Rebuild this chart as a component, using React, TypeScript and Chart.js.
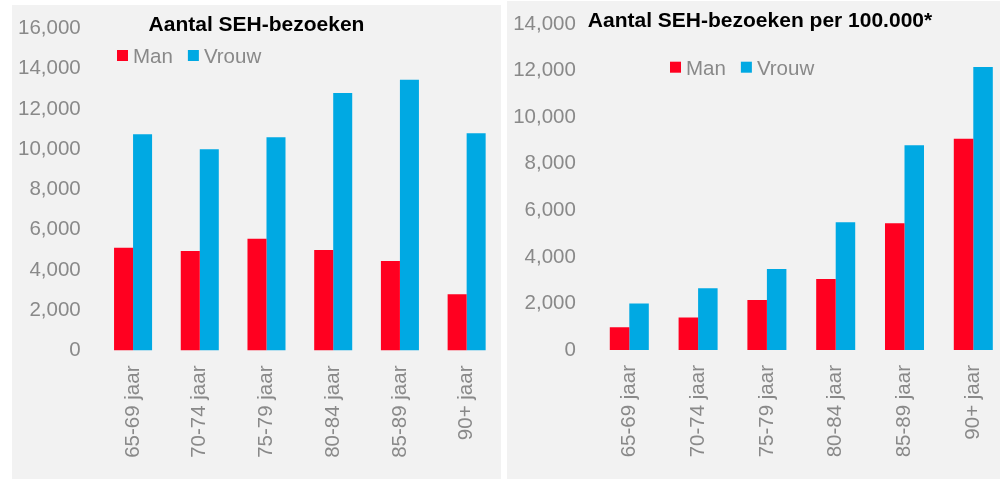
import React, { useEffect, useRef } from 'react';
import { Chart, registerables } from 'chart.js';

Chart.register(...registerables);

const categories = ['65-69 jaar', '70-74 jaar', '75-79 jaar', '80-84 jaar', '85-89 jaar', '90+ jaar'];
const seriesNames = ['Man', 'Vrouw'];
const leftMan = [5100, 4950, 5550, 5000, 4450, 2800];
const leftVrouw = [10750, 10000, 10600, 12800, 13450, 10800];
const rightMan = [980, 1400, 2150, 3050, 5440, 9080];
const rightVrouw = [2000, 2650, 3480, 5490, 8800, 12160];
const leftTitle = 'Aantal SEH-bezoeken';
const rightTitle = 'Aantal SEH-bezoeken per 100.000*';
const leftMax = 16000;
const rightMax = 14000;
const tickStep = 2000;

const RED = '#ff0020';
const BLUE = '#00a9e3';
const GRAY = '#898989';
const FONT = '"Liberation Sans", Arial, sans-serif';

const overlayPlugin = {
  id: 'overlay',
  afterDraw(chart: any, _args: any, opts: any) {
    const ctx = chart.ctx;
    ctx.save();
    ctx.font = `bold 21px ${FONT}`;
    ctx.fillStyle = '#000000';
    ctx.textAlign = 'center';
    ctx.textBaseline = 'alphabetic';
    ctx.fillText(opts.title, opts.titleX, opts.titleY);
    ctx.font = `20.5px ${FONT}`;
    ctx.textAlign = 'left';
    let x = opts.legendX;
    chart.data.datasets.forEach((ds: any) => {
      ctx.fillStyle = ds.backgroundColor;
      ctx.fillRect(x, opts.legendY - 13.3, 11, 11);
      x += 16;
      ctx.fillStyle = GRAY;
      ctx.fillText(ds.label, x, opts.legendY);
      x += ctx.measureText(ds.label).width + 15;
    });
    ctx.restore();
  },
};

type PanelProps = {
  man: number[];
  vrouw: number[];
  max: number;
  title: string;
  width: number;
  height: number;
  padTop: number;
  padRight: number;
  yAxisWidth: number;
  yPad: number;
  xAxisHeight: number;
  catPct: number;
  titleX: number;
  titleY: number;
  legendX: number;
  legendY: number;
};

function ChartPanel(p: PanelProps) {
  const ref = useRef<HTMLCanvasElement | null>(null);
  useEffect(() => {
    if (!ref.current) return;
    const chart = new Chart(ref.current, {
      type: 'bar',
      data: {
        labels: categories,
        datasets: [
          { label: seriesNames[0], data: p.man, backgroundColor: RED, borderWidth: 0 },
          { label: seriesNames[1], data: p.vrouw, backgroundColor: BLUE, borderWidth: 0 },
        ],
      },
      plugins: [overlayPlugin],
      options: {
        responsive: false,
        animation: false,
        devicePixelRatio: 1,
        datasets: { bar: { categoryPercentage: p.catPct, barPercentage: 1 } },
        layout: { padding: { top: p.padTop, right: p.padRight, left: 0, bottom: 0 } },
        plugins: {
          legend: { display: false },
          title: { display: false },
          tooltip: { enabled: false },
          overlay: {
            title: p.title,
            titleX: p.titleX,
            titleY: p.titleY,
            legendX: p.legendX,
            legendY: p.legendY,
          },
        } as any,
        scales: {
          x: {
            grid: { display: false, drawTicks: false },
            border: { display: false },
            ticks: {
              color: GRAY,
              font: { family: FONT, size: 20.5 },
              minRotation: 90,
              maxRotation: 90,
              padding: 15,
              autoSkip: false,
            },
            afterFit: (s: any) => {
              s.height = p.xAxisHeight;
              s.paddingLeft = 0;
              s.paddingRight = 0;
            },
          },
          y: {
            min: 0,
            max: p.max,
            grid: { display: false, drawTicks: false },
            border: { display: false },
            ticks: {
              stepSize: tickStep,
              color: GRAY,
              font: { family: FONT, size: 20.5 },
              padding: p.yPad,
              callback: (v: any) => Number(v).toLocaleString('en-US'),
            },
            afterFit: (s: any) => {
              s.width = p.yAxisWidth;
              s.paddingTop = 0;
              s.paddingBottom = 0;
            },
          },
        },
      } as any,
    });
    return () => chart.destroy();
  }, []);
  return <canvas ref={ref} width={p.width} height={p.height} style={{ display: 'block' }} />;
}

export default function App() {
  return (
    <div
      style={{
        position: 'fixed',
        left: 0,
        top: 0,
        width: 1000,
        height: 479,
        background: '#ffffff',
        overflow: 'hidden',
      }}
    >
      <div
        style={{
          position: 'absolute',
          left: 12,
          top: 5,
          width: 489,
          height: 474,
          background: '#f2f2f2',
          overflow: 'hidden',
        }}
      >
        <ChartPanel
          man={leftMan}
          vrouw={leftVrouw}
          max={leftMax}
          title={leftTitle}
          width={489}
          height={474}
          padTop={23.5}
          padRight={1}
          yAxisWidth={87.7}
          yPad={19}
          xAxisHeight={128.5}
          catPct={0.57}
          titleX={244.5}
          titleY={25.7}
          legendX={105}
          legendY={58.3}
        />
      </div>
      <div
        style={{
          position: 'absolute',
          left: 507,
          top: 1,
          width: 493,
          height: 478,
          background: '#f2f2f2',
          overflow: 'hidden',
        }}
      >
        <ChartPanel
          man={rightMan}
          vrouw={rightVrouw}
          max={rightMax}
          title={rightTitle}
          width={501}
          height={478}
          padTop={23.1}
          padRight={0.3}
          yAxisWidth={87.9}
          yPad={19}
          xAxisHeight={129}
          catPct={0.567}
          titleX={253}
          titleY={25.8}
          legendX={163}
          legendY={74}
        />
      </div>
    </div>
  );
}
